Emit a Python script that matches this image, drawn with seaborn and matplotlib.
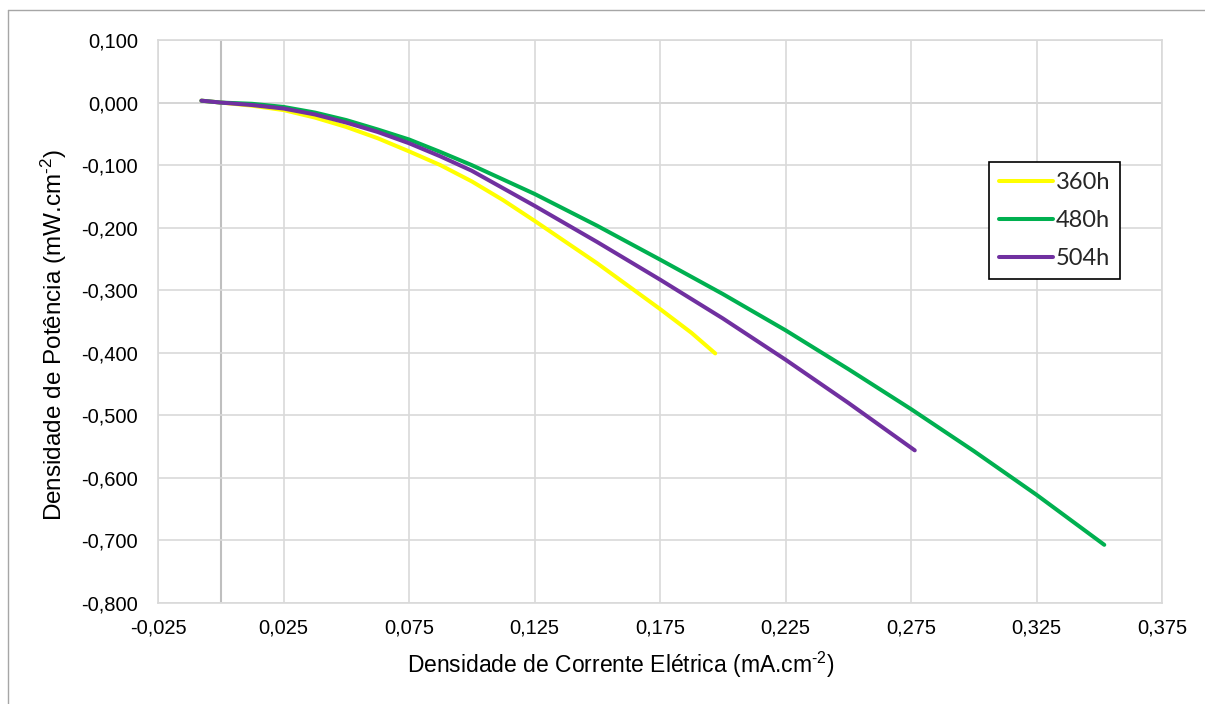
import numpy as np
import pandas as pd
import matplotlib
matplotlib.use("Agg")
import matplotlib.pyplot as plt
import seaborn as sns
from matplotlib.ticker import FuncFormatter
from matplotlib.lines import Line2D

# ---- data ----
j360 = [-0.0077, 0.0, 0.0125, 0.025, 0.0375, 0.050, 0.0625, 0.075, 0.0875, 0.100,
        0.1125, 0.125, 0.150, 0.175, 0.1875, 0.197]
p360 = [0.003, 0.000, -0.005, -0.012, -0.024, -0.039, -0.057, -0.078, -0.100, -0.126,
        -0.156, -0.189, -0.257, -0.330, -0.368, -0.401]

j480 = [-0.0077, 0.0, 0.0125, 0.025, 0.0375, 0.050, 0.0625, 0.075, 0.0875, 0.100,
        0.125, 0.150, 0.175, 0.200, 0.225, 0.250, 0.275, 0.300, 0.325, 0.352]
p480 = [0.003, 0.000, -0.002, -0.007, -0.016, -0.028, -0.043, -0.059, -0.079, -0.100,
        -0.146, -0.197, -0.251, -0.306, -0.364, -0.426, -0.490, -0.557, -0.627, -0.707]

j504 = [-0.0077, 0.0, 0.0125, 0.025, 0.0375, 0.050, 0.0625, 0.075, 0.0875, 0.100,
        0.125, 0.150, 0.175, 0.200, 0.225, 0.250, 0.2765]
p504 = [0.003, 0.000, -0.004, -0.0095, -0.019, -0.032, -0.047, -0.065, -0.086, -0.109,
        -0.165, -0.223, -0.283, -0.345, -0.411, -0.480, -0.556]

series_names = ["360h", "480h", "504h"]
colors = ["#FFFF00", "#00B050", "#7030A0"]

x_ticks = [-0.025, 0.025, 0.075, 0.125, 0.175, 0.225, 0.275, 0.325, 0.375]
y_ticks = [0.1, 0.0, -0.1, -0.2, -0.3, -0.4, -0.5, -0.6, -0.7, -0.8]

x_label = r"Densidade de Corrente Elétrica (mA.cm$^{\text{-2}}$)"
y_label = r"Densidade de Potência (mW.cm$^{\text{-2}}$)"

df = pd.concat([
    pd.DataFrame({"J": j360, "P": p360, "serie": "360h"}),
    pd.DataFrame({"J": j480, "P": p480, "serie": "480h"}),
    pd.DataFrame({"J": j504, "P": p504, "serie": "504h"}),
], ignore_index=True)

sns.set_theme(style="white")
plt.rcParams["font.family"] = ["Liberation Sans", "DejaVu Sans"]
plt.rcParams["mathtext.fontset"] = "custom"
plt.rcParams["mathtext.rm"] = "Liberation Sans"
plt.rcParams["mathtext.it"] = "Liberation Sans"
plt.rcParams["mathtext.sf"] = "Liberation Sans"

W, H = 1205, 704
fig = plt.figure(figsize=(W / 100, H / 100), dpi=100)
fig.patch.set_facecolor("white")
ax = fig.add_axes([158 / W, 1 - 603 / H, (1162 - 158) / W, (603 - 40) / H])

sns.lineplot(data=df, x="J", y="P", hue="serie", palette=dict(zip(series_names, colors)),
             hue_order=series_names, sort=False, estimator=None, lw=2.9, ax=ax,
             solid_capstyle="round", solid_joinstyle="round", legend=False)

ax.set_xlim(-0.025, 0.375)
ax.set_ylim(-0.8, 0.1)
ax.set_xticks(x_ticks)
ax.set_yticks(y_ticks)
fmt = FuncFormatter(lambda v, p: f"{v:.3f}".replace(".", ",").replace("-0,000", "0,000"))
ax.xaxis.set_major_formatter(fmt)
ax.yaxis.set_major_formatter(fmt)

grid_c = "#d9d9d9"
ax.grid(True, color=grid_c, lw=1.2, zorder=0)
ax.set_axisbelow(True)
for s in ax.spines.values():
    s.set_color(grid_c)
    s.set_linewidth(1.2)
ax.axvline(0, color="#bfbfbf", lw=1.5, zorder=0.5)
ax.axhline(0, color="#c8c8c8", lw=1.3, zorder=0.5)

ax.tick_params(axis="both", length=0, labelsize=14.5, colors="black")
ax.tick_params(axis="x", pad=11)
ax.tick_params(axis="y", pad=14.5)

ax.set_xlabel(x_label, fontsize=16.5, color="black")
ax.set_ylabel(y_label, fontsize=17.5, color="black")
ax.xaxis.set_label_coords((621 - 158) / 1004, -(650 - 603) / 563)
ax.xaxis.label.set_va("top")
ax.yaxis.set_label_coords(-(158 - 69) / 1004, (603 - 335) / 563)

# legend
handles = [Line2D([0], [0], color=c, lw=2.9, solid_capstyle="round") for c in colors]
leg = fig.legend(handles, series_names, loc="upper left",
                 bbox_to_anchor=(989 / W, 1 - 162 / H), bbox_transform=fig.transFigure,
                 borderaxespad=0, frameon=True, fancybox=False, framealpha=1,
                 edgecolor="black", handlelength=2.3, handletextpad=0.12,
                 labelspacing=0.72, borderpad=0.42,
                 prop={"family": ["Lato", "DejaVu Sans"], "size": 17})
leg.get_frame().set_linewidth(1.2)

# outer chart border (only top and left edges are visible in the reference)
fig.add_artist(Line2D([8 / W, 8 / W], [0, 1 - 10 / H], transform=fig.transFigure,
                      color="#a6a6a6", lw=1.0))
fig.add_artist(Line2D([8 / W, 1], [1 - 10 / H, 1 - 10 / H], transform=fig.transFigure,
                      color="#a6a6a6", lw=1.0))

fig.savefig("out.png", dpi=100, facecolor="white")
